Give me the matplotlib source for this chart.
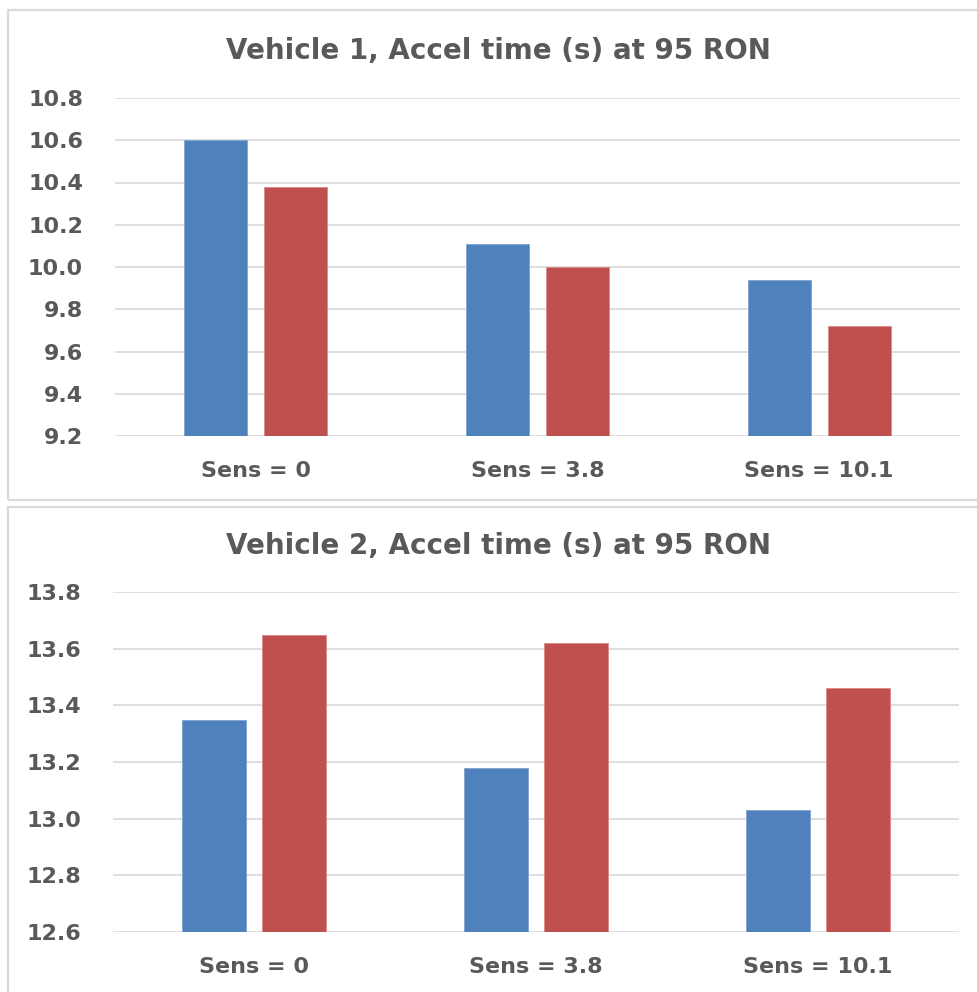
import matplotlib
matplotlib.use("Agg")
import matplotlib.pyplot as plt
from matplotlib.patches import Rectangle
import numpy as np

# Dati
categories = ["Sens = 0", "Sens = 3.8", "Sens = 10.1"]
v1_blue = [10.60, 10.11, 9.94]
v1_red = [10.38, 10.00, 9.72]
v2_blue = [13.35, 13.18, 13.03]
v2_red = [13.65, 13.62, 13.46]
v1_ticks = [9.2, 9.4, 9.6, 9.8, 10.0, 10.2, 10.4, 10.6, 10.8]
v2_ticks = [12.6, 12.8, 13.0, 13.2, 13.4, 13.6, 13.8]
titles = ["Vehicle 1, Accel time (s) at 95 RON", "Vehicle 2, Accel time (s) at 95 RON"]

BLUE = "#4F81BD"
RED = "#C0504D"
TEXT = "#595959"
GRID = "#D9D9D9"
FONT = "DejaVu Sans"

W, H = 977, 992
fig = plt.figure(figsize=(W / 100, H / 100), dpi=100)

# Bordi dei pannelli (in pixel -> frazione)
def px_rect(x0, y0, x1, y1):
    return Rectangle((x0 / W, 1 - y1 / H), (x1 - x0) / W, (y1 - y0) / H,
                     transform=fig.transFigure, fill=False,
                     edgecolor=GRID, linewidth=1.6)

fig.patches.append(px_rect(8, 10, 990, 500))
fig.patches.append(px_rect(8, 507, 990, 1010))

def draw_panel(rect, blue, red, ticks, title, title_y):
    ax = fig.add_axes(rect)
    x = np.arange(len(categories))
    w = 0.224
    off = 0.142
    ax.bar(x - off, [b - ticks[0] for b in blue], w, bottom=ticks[0],
           color=BLUE, edgecolor="#7FA3D1", linewidth=0.6, zorder=3)
    ax.bar(x + off, [r - ticks[0] for r in red], w, bottom=ticks[0],
           color=RED, edgecolor="#D98A88", linewidth=0.6, zorder=3)
    ax.set_xlim(-0.5, len(categories) - 0.5)
    ax.set_ylim(ticks[0], ticks[-1])
    ax.set_yticks(ticks)
    ax.set_yticklabels([f"{t:.1f}" for t in ticks], fontsize=16,
                       fontweight="bold", color=TEXT, family=FONT)
    ax.set_xticks(x)
    ax.set_xticklabels(categories, fontsize=16, fontweight="bold",
                       color=TEXT, family=FONT)
    ax.tick_params(axis="y", length=0, pad=23)
    ax.tick_params(axis="x", length=0, pad=18)
    ax.grid(axis="y", color=GRID, linewidth=1.2, zorder=0)
    for s in ax.spines.values():
        s.set_visible(False)
    fig.text(0.51, 1 - title_y / H, title, ha="center", va="center",
             fontsize=20, fontweight="bold", color=TEXT, family=FONT)
    return ax

draw_panel([115 / W, 1 - 436 / H, 845 / W, 338 / H], v1_blue, v1_red,
           v1_ticks, titles[0], 51)
draw_panel([113 / W, 1 - 932 / H, 846 / W, 340 / H], v2_blue, v2_red,
           v2_ticks, titles[1], 546)

fig.savefig("out.png", dpi=100)
